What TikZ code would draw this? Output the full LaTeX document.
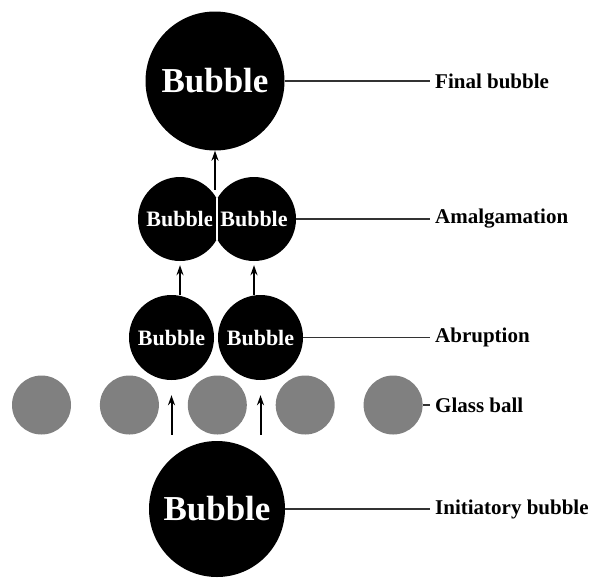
\documentclass[tikz,border=0pt]{standalone}
\usepackage{fontspec}
\setmainfont{Liberation Serif}
\usepackage{tikz}
\usetikzlibrary{arrows.meta, positioning, calc}
\definecolor{ballgray}{RGB}{128,128,128}
\tikzset{
    bubble/.style={circle, fill=black, text=white, inner sep=0pt, font=\bfseries\fontsize{22}{24}\selectfont},
    bigbubble/.style={bubble, font=\bfseries\fontsize{35}{38}\selectfont},
    ball/.style={circle, fill=ballgray, minimum size=59pt, inner sep=0pt},
    caption/.style={anchor=west, inner sep=5pt, font=\bfseries\fontsize{21}{24}\selectfont},
    arrow/.style={line width=2pt, -{Stealth[length=10pt, width=7pt]}},
    leader/.style={line width=1.2pt, black!80},
}

\begin{document}
\begin{tikzpicture}[x=1pt, y=-1pt, node distance=28.5pt]
    \useasboundingbox (0,0) rectangle (591,579);

    \node [bigbubble, minimum size=139pt] (final) at (215,81) {Bubble};

    \node [bubble, minimum size=84pt] (amL) at (180,219) {Bubble};
    \node [bubble, minimum size=84pt] (amR) at (254,219) {Bubble};
    \draw [white, line width=1.2pt] ($(amL)!0.5!(amR)$) ++(0,-21) -- ++(0,42);

    \node [bubble, minimum size=85pt] (abL) at (171.5,337.5) {Bubble};
    \node [bubble, minimum size=85pt] (abR) at (260.5,337.5) {Bubble};

    \node [ball] (g1) at (41.5,405) {};
    \node [ball, right=of g1] (g2) {};
    \node [ball, right=of g2] (g3) {};
    \node [ball, right=of g3] (g4) {};
    \node [ball, right=of g4] (g5) {};

    \node [bigbubble, minimum size=136pt] (init) at (217,509) {Bubble};

    \coordinate (lx) at (430,0);
    \node [caption] (lfinal) at (final -| lx) {Final bubble};
    \node [caption] (lamal) at (amR -| lx) {Amalgamation};
    \node [caption] (labr) at (abR -| lx) {Abruption};
    \node [caption] (lglass) at (g5 -| lx) {Glass ball};
    \node [caption] (linit) at (init -| lx) {Initiatory bubble};

    \draw [leader] (final) -- (lfinal);
    \draw [leader] (amR) -- (lamal);
    \draw [leader] (abR) -- (labr);
    \draw [leader] (g5) -- (lglass);
    \draw [leader] (init) -- (linit);

    \draw [arrow] ($(final.south |- amL.north)+(0,13)$) -- (final.south);
    \draw [arrow, shorten >=4pt] (amL.south |- abL.north) -- (amL.south);
    \draw [arrow, shorten >=4pt] (amR.south |- abR.north) -- (amR.south);
    \draw [arrow, shorten <=6pt, shorten >=15pt] (abL.south |- init.north) -- (abL.south);
    \draw [arrow, shorten <=6pt, shorten >=15pt] (abR.south |- init.north) -- (abR.south);
\end{tikzpicture}
\end{document}
